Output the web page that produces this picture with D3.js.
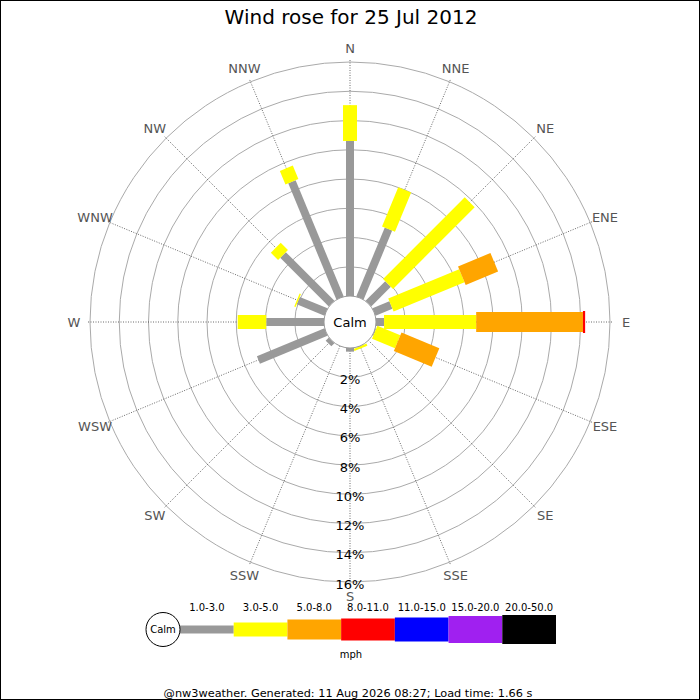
<!DOCTYPE html>
<html>
<head>
<meta charset="utf-8">
<script src="https://cdn.jsdelivr.net/npm/d3@7"></script>
<style>
html,body{margin:0;padding:0;background:#fff;}
svg{display:block;font-family:"DejaVu Sans",sans-serif;}
</style>
</head>
<body>
<svg id="chart" width="700" height="700"></svg>
<script>
// ---------- DATA ----------
const title = "Wind rose for 25 Jul 2012";
const directions = ["N","NNE","NE","ENE","E","ESE","SE","SSE","S","SSW","SW","WSW","W","WNW","NW","NNW"];
const speedBands = ["1.0-3.0","3.0-5.0","5.0-8.0","8.0-11.0","11.0-15.0","15.0-20.0","20.0-50.0"];
// percentage of time per direction, for each speed band (not cumulative)
const band1to3   = [10.6, 5.1, 1.9, 1.25, 0.55, 0.05, 0, 0.02, 0.25, 0, 0.3, 5.0, 3.95, 2.05, 4.7, 8.6];
const band3to5   = [2.45, 2.9, 7.9, 5.25, 6.3, 1.7, 0, 0.15, 0, 0, 0, 0, 1.95, 0.1, 0.7, 1.0];
const band5to8   = [0, 0, 0, 2.4, 7.3, 2.8, 0, 0, 0, 0, 0, 0, 0, 0, 0, 0];
const band8to11  = [0, 0, 0, 0, 0.15, 0, 0, 0, 0, 0, 0, 0, 0, 0, 0, 0];
const band11to15 = [0, 0, 0, 0, 0, 0, 0, 0, 0, 0, 0, 0, 0, 0, 0, 0];
const band15to20 = [0, 0, 0, 0, 0, 0, 0, 0, 0, 0, 0, 0, 0, 0, 0, 0];
const band20to50 = [0, 0, 0, 0, 0, 0, 0, 0, 0, 0, 0, 0, 0, 0, 0, 0];
const ringTicks = [2, 4, 6, 8, 10, 12, 14, 16];
const unitLabel = "mph";
const calmLabel = "Calm";
const footer = "@nw3weather. Generated: 11 Aug 2026 08:27; Load time: 1.66 s";

// ---------- STYLE ----------
const bandColors = ["#999999","#ffff00","#ffa500","#ff0000","#0000ff","#a020f0","#000000"];
const bandWidths = [8, 14, 20, 22, 24, 27, 29];
const cx = 350, cy = 322, r0 = 26, rMax = 260;

const series = [band1to3, band3to5, band5to8, band8to11, band11to15, band15to20, band20to50];

const svg = d3.select("#chart");
svg.append("rect").attr("x",0.5).attr("y",0.5).attr("width",699).attr("height",699)
  .attr("fill","#fff").attr("stroke","#000").attr("stroke-width",1);

svg.append("text").attr("x",351).attr("y",24).attr("text-anchor","middle")
  .attr("font-size",20).attr("fill","#000").text(title);

const r = d3.scaleLinear().domain([0, 16]).range([r0, rMax]);
const ang = d3.scaleBand().domain(directions).range([0, 360]).align(0).paddingInner(0).paddingOuter(0);
const angleOf = d => ang(d); // degrees, clockwise from north

const g = svg.append("g").attr("transform", `translate(${cx},${cy})`);

// rings
g.selectAll("circle.ring").data(ringTicks).join("circle").attr("class","ring")
  .attr("r", d => r(d)).attr("fill","none").attr("stroke","#aaaaaa").attr("stroke-width",1);

// spokes
g.selectAll("line.spoke").data(directions).join("line").attr("class","spoke")
  .attr("x1", d => r0*Math.sin(angleOf(d)*Math.PI/180))
  .attr("y1", d => -r0*Math.cos(angleOf(d)*Math.PI/180))
  .attr("x2", d => (rMax+3)*Math.sin(angleOf(d)*Math.PI/180))
  .attr("y2", d => -(rMax+3)*Math.cos(angleOf(d)*Math.PI/180))
  .attr("stroke","#444").attr("stroke-width",0.8).attr("stroke-dasharray","1,1.5");

// compass labels
g.selectAll("text.dir").data(directions).join("text").attr("class","dir")
  .attr("x", d => 276*Math.sin(angleOf(d)*Math.PI/180))
  .attr("y", d => -274*Math.cos(angleOf(d)*Math.PI/180))
  .attr("text-anchor","middle").attr("dominant-baseline","central")
  .attr("font-size",13).attr("fill","#555").text(d => d);

// bars
const segs = [];
directions.forEach((dir, i) => {
  let cum = 0;
  series.forEach((s, b) => {
    const v = s[i];
    if (v > 0) segs.push({dir, b, start: cum, end: cum + v});
    cum += v;
  });
});
g.selectAll("rect.seg").data(segs).join("rect").attr("class","seg")
  .attr("transform", d => `rotate(${angleOf(d.dir)})`)
  .attr("x", d => -bandWidths[d.b]/2)
  .attr("width", d => bandWidths[d.b])
  .attr("y", d => -r(d.end))
  .attr("height", d => r(d.end) - r(d.start))
  .attr("fill", d => bandColors[d.b]);

// calm circle
g.append("circle").attr("r", r0).attr("fill","#fff").attr("stroke","#999").attr("stroke-width",1);
g.append("text").attr("x",0).attr("y",0).attr("text-anchor","middle").attr("dominant-baseline","central")
  .attr("font-size",13).attr("fill","#000").text(calmLabel);

// ring labels
g.selectAll("text.ringlab").data(ringTicks).join("text").attr("class","ringlab")
  .attr("x",0).attr("y", d => r(d) + 2)
  .attr("text-anchor","middle").attr("dominant-baseline","central")
  .attr("font-size",13).attr("fill","#000").text(d => d + "%");

// legend
const lx0 = 180, lx1 = 556, ly = 629.5;
const lx = d3.scaleBand().domain(speedBands).range([lx0, lx1]);
const leg = svg.append("g");
leg.selectAll("rect").data(speedBands).join("rect")
  .attr("x", d => lx(d)).attr("width", lx.bandwidth())
  .attr("y", (d,i) => ly - bandWidths[i]/2).attr("height", (d,i) => bandWidths[i])
  .attr("fill", (d,i) => bandColors[i]);
leg.selectAll("text").data(speedBands).join("text")
  .attr("x", d => lx(d) + lx.bandwidth()/2).attr("y", 611)
  .attr("text-anchor","middle").attr("font-size",10).attr("fill","#000").text(d => d);
svg.append("circle").attr("cx",163).attr("cy",ly).attr("r",17).attr("fill","#fff").attr("stroke","#000");
svg.append("text").attr("x",163).attr("y",ly).attr("text-anchor","middle").attr("dominant-baseline","central")
  .attr("font-size",10).attr("fill","#000").text(calmLabel);
svg.append("text").attr("x",351).attr("y",658).attr("text-anchor","middle")
  .attr("font-size",10).attr("fill","#000").text(unitLabel);

svg.append("text").attr("x",348).attr("y",697).attr("text-anchor","middle")
  .attr("font-size",11.3).attr("fill","#000").text(footer);
</script>
</body>
</html>
